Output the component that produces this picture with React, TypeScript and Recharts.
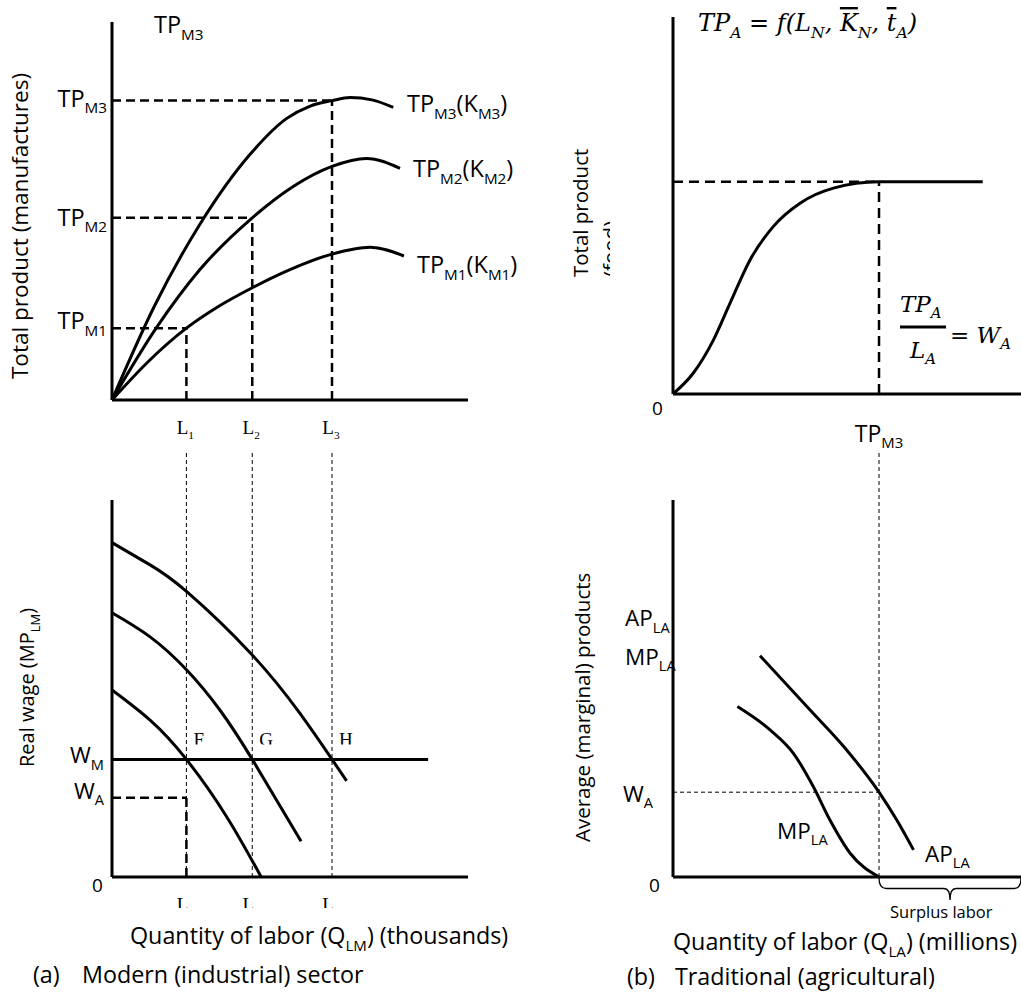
import React from 'react';
import { LineChart, Line, XAxis, YAxis, ReferenceLine, ReferenceDot, ReferenceArea } from 'recharts';

const SANS = '"Open Sans", Lato, sans-serif';
const SERIF = '"Liberation Serif", "Times New Roman", serif';
const MATH = '"DejaVu Serif", "Liberation Serif", serif';

// labour in the modern sector (shared by both left panels)
const L_VALUES = [20.9, 39.4, 61.8];
const L_LABELS = ['1', '2', '3'];

// (a) top: total product of manufactures
const TP_LEVELS = [19, 48.2, 79.2];
const TP_LABELS = ['M1', 'M2', 'M3'];
const TPM1 = [
  { x: 0, y: 0 }, { x: 10, y: 10 }, { x: 20.9, y: 19 }, { x: 30, y: 24.8 }, { x: 39.4, y: 29.7 },
  { x: 50, y: 34.5 }, { x: 61.8, y: 38.6 }, { x: 72.5, y: 40.4 }, { x: 82, y: 38.1 },
];
const TPM2 = [
  { x: 0, y: 0 }, { x: 12.4, y: 19 }, { x: 24.7, y: 34.5 }, { x: 39.4, y: 48.2 },
  { x: 50.9, y: 56.5 }, { x: 61.8, y: 61.8 }, { x: 71.5, y: 63.9 }, { x: 80.9, y: 61.3 },
];
const TPM3 = [
  { x: 0, y: 0 }, { x: 12, y: 25 }, { x: 24.7, y: 46.5 }, { x: 38.8, y: 65 }, { x: 49.1, y: 74.5 },
  { x: 55.5, y: 77.7 }, { x: 61.8, y: 79.2 }, { x: 66.9, y: 80 }, { x: 73, y: 79.4 }, { x: 79, y: 77.4 },
];

// (b) top: total product of food
const TPA = [
  { x: 0, y: 0 }, { x: 5.8, y: 5.5 }, { x: 11.6, y: 14.3 }, { x: 16.4, y: 24.1 },
  { x: 22.1, y: 35.5 }, { x: 28.8, y: 44.4 }, { x: 36.5, y: 50.6 }, { x: 46.1, y: 54.6 },
  { x: 59.2, y: 56.3 }, { x: 89, y: 56.3 },
];
const TPA_MAX_L = 59.2;
const TPA_MAX = 56.3;

// (a) bottom: marginal product of labour curves, wages
const W_M = 31.2;
const W_A_M = 21;
const WM_END = 88.8;
const W_TICKS = [W_A_M, W_M];
const W_LABELS = ['A', 'M'];
const POINT_LABELS = ['F', 'G', 'H'];
const MPL1 = [{ x: 0, y: 49.6 }, { x: 10.7, y: 41.6 }, { x: 20.9, y: 31.2 }, { x: 32.2, y: 16 }, { x: 41.9, y: 0 }];
const MPL2 = [
  { x: 0, y: 70.1 }, { x: 10.7, y: 63.7 }, { x: 21, y: 54.9 }, { x: 30.3, y: 44.3 },
  { x: 39.4, y: 31.2 }, { x: 53.1, y: 9.5 },
];
const MPL3 = [
  { x: 0, y: 88.7 }, { x: 10.7, y: 82.8 }, { x: 21, y: 75.7 }, { x: 39, y: 59.3 },
  { x: 52.8, y: 43.4 }, { x: 61.8, y: 31.2 }, { x: 65.9, y: 25.5 },
];
const GUIDE_TOP = 112.7;

// (b) bottom: average / marginal product of agricultural labour
const W_A = 22.5;
const APLA = [
  { x: 25, y: 58.7 }, { x: 39.4, y: 44.3 }, { x: 49.9, y: 33.7 }, { x: 59.2, y: 22.5 },
  { x: 64.3, y: 15.1 }, { x: 69.1, y: 7.2 },
];
const MPLA = [
  { x: 18.5, y: 45.2 }, { x: 27.9, y: 39 }, { x: 34.6, y: 32.8 }, { x: 40.3, y: 24 },
  { x: 45.1, y: 15.1 }, { x: 50.9, y: 6.3 }, { x: 59.2, y: 0 },
];
const BR_TICKS = [W_A, 57.8, 68.1];
const BR_LABELS = [['W', 'A'], ['MP', 'LA'], ['AP', 'LA']];
const BRACE_DEPTH = -6.1;

type Part = { t: string; sub?: boolean; over?: boolean };

function Rich({ x, y, parts, size, anchor = 'start', family = SANS, italic = false, subRatio = 0.65 }: {
  x: number; y: number; parts: Part[]; size: number; anchor?: string; family?: string; italic?: boolean; subRatio?: number;
}) {
  let lowered = false;
  const shift = size * 0.28;
  return (
    <text x={x} y={y} fontSize={size} fontFamily={family} fontStyle={italic ? 'italic' : 'normal'} textAnchor={anchor as any} fill="#000">
      {parts.map((p, i) => {
        const sub = !!p.sub;
        const dy = sub === lowered ? 0 : sub ? shift : -shift;
        lowered = sub;
        return (
          <tspan key={i} dy={dy} fontSize={sub ? size * subRatio : size} style={p.over ? { textDecoration: 'overline' } : undefined}>
            {p.t}
          </tspan>
        );
      })}
    </text>
  );
}

const tp = (s: string): Part[] => [{ t: 'TP' }, { t: s, sub: true }];
const AXIS = { stroke: '#000', strokeWidth: 3 };
const DASH = { stroke: '#000', strokeWidth: 2.5, strokeDasharray: '9 5' };
const THIN = { stroke: '#000', strokeWidth: 1, strokeDasharray: '4 3' };
const CURVE = { dataKey: 'y', stroke: '#000', strokeWidth: 3, dot: false, isAnimationActive: false };

const tpTick = (props: any) => {
  const i = TP_LEVELS.indexOf(props.payload.value);
  const dy = [1, 8, 6][i];
  return <Rich x={107} y={props.y + dy} size={23.5} anchor="end" parts={tp(TP_LABELS[i])} />;
};

const lTickTop = (props: any) => {
  const i = L_VALUES.indexOf(props.payload.value);
  return <Rich x={props.x - 1} y={434} size={19} family={SERIF} anchor="middle" subRatio={0.6} parts={[{ t: 'L' }, { t: L_LABELS[i], sub: true }]} />;
};

// bottom-left L labels are cut off by the text box
const lTickBottom = (props: any) => {
  const i = L_VALUES.indexOf(props.payload.value);
  return (
    <svg x={props.x - 15} y={450} width={30} height={13} overflow="hidden">
      <Rich x={14} y={15.5} size={19} family={SERIF} anchor="middle" subRatio={0.6} parts={[{ t: 'L' }, { t: L_LABELS[i], sub: true }]} />
    </svg>
  );
};

const wTick = (props: any) => {
  const i = W_TICKS.indexOf(props.payload.value);
  const dy = [1, 4][i];
  return <Rich x={104} y={props.y + dy} size={22.5} anchor="end" parts={[{ t: 'W' }, { t: W_LABELS[i], sub: true }]} />;
};

const brTick = (props: any) => {
  const i = BR_TICKS.indexOf(props.payload.value);
  const dy = [10, 6, 6][i];
  return <Rich x={i === 0 ? 63 : 65} y={props.y + dy} size={22.5} parts={[{ t: BR_LABELS[i][0] }, { t: BR_LABELS[i][1], sub: true }]} />;
};

const tpm3Tick = (props: any) => <Rich x={props.x} y={442} size={23} anchor="middle" parts={tp('M3')} />;

function Brace(p: any) {
  const { x, y, width: w, height: h } = p;
  const mid = y + h * 0.5;
  const cx = x + w / 2;
  const d = `M${x},${y + 1} Q${x},${mid} ${x + 7},${mid} L${cx - 6},${mid} Q${cx},${mid} ${cx},${y + h} Q${cx},${mid} ${cx + 6},${mid} L${x + w - 7},${mid} Q${x + w},${mid} ${x + w},${y + 1}`;
  return <path d={d} fill="none" stroke="#000" strokeWidth={1.3} />;
}

export default function App() {
  return (
    <div style={{ position: 'absolute', left: 0, top: 0, width: 1021, height: 996, background: '#fff', overflow: 'hidden' }}>
      {/* (a) total product, modern sector */}
      <div style={{ position: 'absolute', left: 0, top: 0 }}>
        <LineChart width={520} height={445} margin={{ top: 22, right: 52, bottom: 0, left: 0 }}>
          <XAxis dataKey="x" type="number" domain={[0, 100]} ticks={L_VALUES} interval={0} height={45} tickLine={false} axisLine={AXIS} tick={lTickTop} />
          <YAxis type="number" domain={[0, 100]} ticks={TP_LEVELS} interval={0} width={112} tickLine={false} axisLine={AXIS} tick={tpTick} />
          {TP_LEVELS.map((v, i) => (
            <ReferenceLine key={'h' + i} segment={[{ x: 0, y: v }, { x: L_VALUES[i], y: v }]} {...DASH} />
          ))}
          {TP_LEVELS.map((v, i) => (
            <ReferenceLine key={'v' + i} segment={[{ x: L_VALUES[i], y: 0 }, { x: L_VALUES[i], y: v }]} {...DASH} />
          ))}
          <Line data={TPM1} type="monotone" {...CURVE} />
          <Line data={TPM2} type="monotone" {...CURVE} />
          <Line data={TPM3} type="monotone" {...CURVE} />
        </LineChart>
      </div>

      {/* (b) total product, traditional sector */}
      <div style={{ position: 'absolute', left: 560, top: 0 }}>
        <LineChart width={461} height={452} margin={{ top: 17, right: 0, bottom: 0, left: 0 }}>
          <XAxis dataKey="x" type="number" domain={[0, 100]} ticks={[TPA_MAX_L]} interval={0} height={58} tickLine={false} axisLine={AXIS} tick={tpm3Tick} />
          <YAxis type="number" domain={[0, 100]} width={113} tickLine={false} axisLine={AXIS} tick={false} />
          <ReferenceLine segment={[{ x: 0, y: TPA_MAX }, { x: TPA_MAX_L, y: TPA_MAX }]} {...DASH} strokeDasharray="10 6" />
          <ReferenceLine segment={[{ x: TPA_MAX_L, y: 0 }, { x: TPA_MAX_L, y: TPA_MAX }]} {...DASH} strokeDasharray="10 6" />
          <Line data={TPA} type="monotone" {...CURVE} />
        </LineChart>
      </div>

      {/* (a) real wage / marginal product */}
      <div style={{ position: 'absolute', left: 0, top: 445 }}>
        <LineChart width={520} height={551} margin={{ top: 55, right: 52, bottom: 0, left: 0 }}>
          <XAxis dataKey="x" type="number" domain={[0, 100]} ticks={L_VALUES} interval={0} height={119} tickLine={false} axisLine={AXIS} tick={lTickBottom} />
          <YAxis type="number" domain={[0, 100]} ticks={W_TICKS} interval={0} width={112} tickLine={false} axisLine={AXIS} tick={wTick} />
          {L_VALUES.map((l, i) => (
            <ReferenceLine key={'g' + i} segment={[{ x: l, y: 0 }, { x: l, y: GUIDE_TOP }]} ifOverflow="visible" {...THIN} />
          ))}
          <ReferenceLine segment={[{ x: 0, y: W_A_M }, { x: L_VALUES[0], y: W_A_M }]} {...DASH} />
          <ReferenceLine segment={[{ x: L_VALUES[0], y: 0 }, { x: L_VALUES[0], y: W_A_M }]} {...DASH} />
          <ReferenceLine segment={[{ x: 0, y: W_M }, { x: WM_END, y: W_M }]} stroke="#000" strokeWidth={3} />
          <Line data={MPL1} type="natural" {...CURVE} />
          <Line data={MPL2} type="natural" {...CURVE} />
          <Line data={MPL3} type="natural" {...CURVE} />
          {L_VALUES.map((l, i) => (
            <ReferenceDot
              key={'p' + i}
              x={l}
              y={W_M}
              r={0}
              ifOverflow="visible"
              shape={(p: any) => (
                <svg x={p.cx + 5} y={p.cy - 30} width={24} height={15} overflow="hidden">
                  <text x={2} y={16.5} fontFamily={SERIF} fontSize={19} fill="#000">{POINT_LABELS[i]}</text>
                </svg>
              )}
            />
          ))}
        </LineChart>
      </div>

      {/* (b) average and marginal products */}
      <div style={{ position: 'absolute', left: 560, top: 445 }}>
        <LineChart width={461} height={551} margin={{ top: 55, right: 0, bottom: 0, left: 0 }}>
          <XAxis dataKey="x" type="number" domain={[0, 100]} height={119} tickLine={false} axisLine={AXIS} tick={false} />
          <YAxis type="number" domain={[0, 100]} ticks={BR_TICKS} interval={0} width={113} tickLine={false} axisLine={AXIS} tick={brTick} />
          <ReferenceLine segment={[{ x: TPA_MAX_L, y: 0 }, { x: TPA_MAX_L, y: GUIDE_TOP }]} ifOverflow="visible" {...THIN} />
          <ReferenceLine segment={[{ x: 0, y: W_A }, { x: TPA_MAX_L, y: W_A }]} {...THIN} />
          <ReferenceArea x1={TPA_MAX_L} x2={100} y1={BRACE_DEPTH} y2={0} ifOverflow="visible" shape={(p: any) => <Brace {...p} />} />
          <Line data={MPLA} type="monotone" {...CURVE} />
          <Line data={APLA} type="monotone" {...CURVE} />
        </LineChart>
      </div>

      {/* text annotations */}
      <svg width={1021} height={996} style={{ position: 'absolute', left: 0, top: 0, pointerEvents: 'none' }}>
        <defs>
          <clipPath id="foodClip">
            <rect x={590} y={150} width={20} height={140} />
          </clipPath>
        </defs>

        <Rich x={154} y={33} size={23.5} parts={tp('M3')} />
        <Rich x={407} y={112} size={23.5} parts={[...tp('M3'), { t: '(K' }, { t: 'M3', sub: true }, { t: ')' }]} />
        <Rich x={413} y={177} size={23.5} parts={[...tp('M2'), { t: '(K' }, { t: 'M2', sub: true }, { t: ')' }]} />
        <Rich x={417} y={273} size={23.5} parts={[...tp('M1'), { t: '(K' }, { t: 'M1', sub: true }, { t: ')' }]} />
        <g transform="rotate(-90 28 226)">
          <text x={28} y={226} textAnchor="middle" fontSize={22.5} fontFamily={SANS} fill="#000">Total product (manufactures)</text>
        </g>

        <Rich
          x={698}
          y={31}
          size={24}
          family={MATH}
          italic
          parts={[
            { t: 'TP' }, { t: 'A', sub: true }, { t: ' = f(L' }, { t: 'N', sub: true }, { t: ', ' },
            { t: 'K', over: true }, { t: 'N', sub: true }, { t: ', ' }, { t: 't', over: true }, { t: 'A', sub: true }, { t: ')' },
          ]}
        />
        <Rich x={900} y={312} size={23} family={MATH} italic parts={[{ t: 'TP' }, { t: 'A', sub: true }]} />
        <line x1={900} y1={327} x2={946} y2={327} stroke="#000" strokeWidth={3} />
        <Rich x={910} y={358} size={23} family={MATH} italic parts={[{ t: 'L' }, { t: 'A', sub: true }]} />
        <Rich x={950} y={343} size={23} family={MATH} italic parts={[{ t: '= W' }, { t: 'A', sub: true }]} />
        <text x={652} y={415} fontSize={19} fontFamily={SANS} fill="#000">0</text>
        <g transform="rotate(-90 588 277)">
          <text x={588} y={277} fontSize={20.5} fontFamily={SANS} fill="#000">Total product</text>
        </g>
        <g clipPath="url(#foodClip)">
          <g transform="rotate(-90 588 277)">
            <text x={588} y={307} fontSize={20.5} fontFamily={SANS} fill="#000">(food)</text>
          </g>
        </g>

        <text x={92} y={892} fontSize={19} fontFamily={SANS} fill="#000">0</text>
        <g transform="rotate(-90 34 767)">
          <Rich x={34} y={767} size={20} parts={[{ t: 'Real wage (MP' }, { t: 'LM', sub: true }, { t: ')' }]} />
        </g>
        <Rich x={130} y={944} size={23.3} parts={[{ t: 'Quantity of labor (Q' }, { t: 'LM', sub: true }, { t: ') (thousands)' }]} />
        <text x={33} y={983} fontSize={23.3} fontFamily={SANS} fill="#000">(a)</text>
        <text x={82} y={983} fontSize={23.3} fontFamily={SANS} fill="#000">Modern (industrial) sector</text>

        <text x={649} y={892} fontSize={19} fontFamily={SANS} fill="#000">0</text>
        <g transform="rotate(-90 590 842)">
          <text x={590} y={842} fontSize={20.5} fontFamily={SANS} fill="#000">Average (marginal) products</text>
        </g>
        <Rich x={777} y={839} size={22.5} parts={[{ t: 'MP' }, { t: 'LA', sub: true }]} />
        <Rich x={925} y={862} size={22.5} parts={[{ t: 'AP' }, { t: 'LA', sub: true }]} />
        <text x={890} y={918} fontSize={16.5} fontFamily={SANS} fill="#000">Surplus labor</text>
        <Rich x={673} y={950} size={23.3} parts={[{ t: 'Quantity of labor (Q' }, { t: 'LA', sub: true }, { t: ') (millions)' }]} />
        <text x={627} y={985} fontSize={23.3} fontFamily={SANS} fill="#000">(b)</text>
        <text x={675} y={985} fontSize={23.3} fontFamily={SANS} fill="#000">Traditional (agricultural)</text>
      </svg>
    </div>
  );
}
